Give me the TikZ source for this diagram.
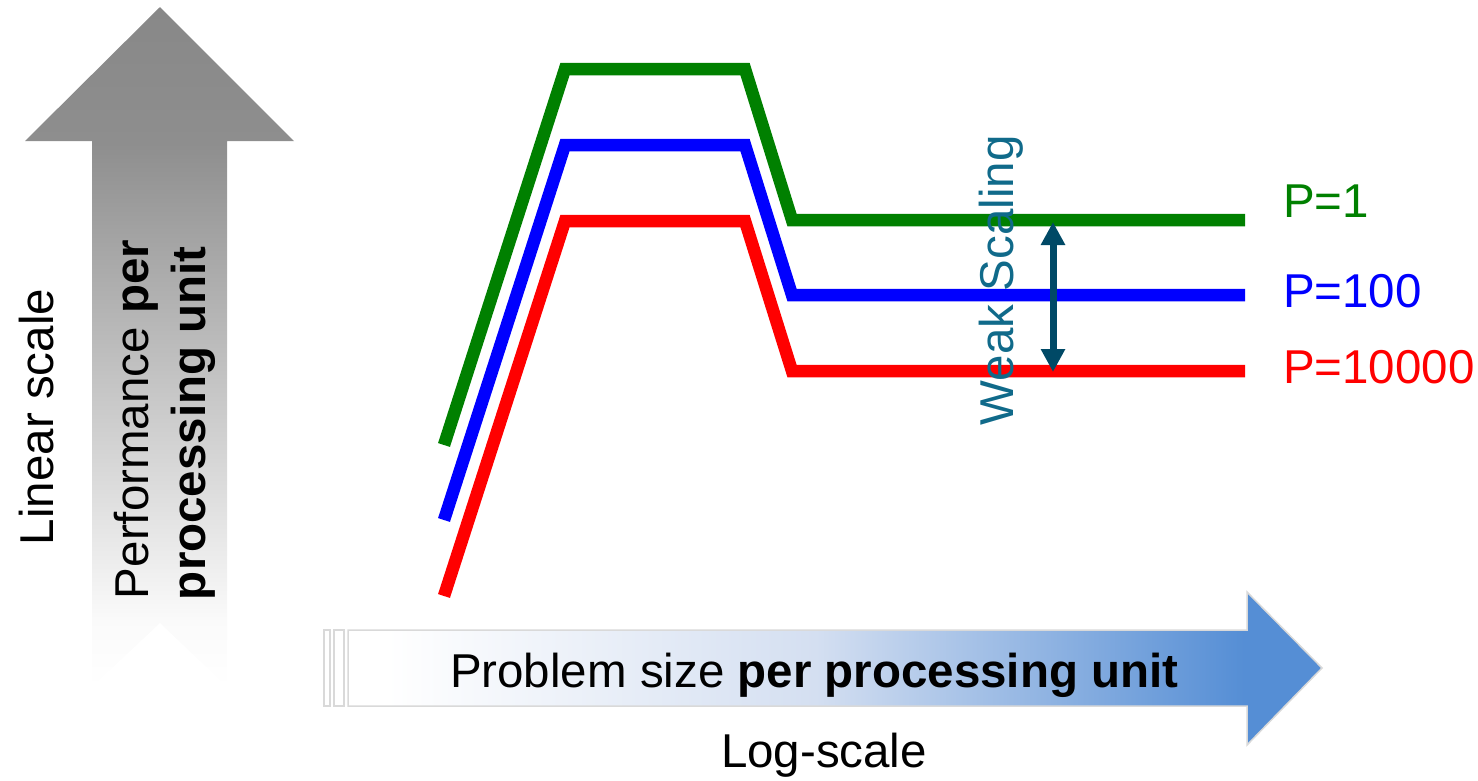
\documentclass[tikz,border=0pt]{standalone}
\usepackage{fontspec}
\setmainfont{Liberation Sans}
\usetikzlibrary{arrows.meta}
\definecolor{pgreen}{RGB}{0,128,0}
\definecolor{pblue}{RGB}{0,0,255}
\definecolor{pred}{RGB}{255,0,0}
\definecolor{wsteal}{RGB}{16,106,138}
\definecolor{wsarrow}{RGB}{0,73,102}
\definecolor{gtop}{RGB}{136,136,136}
\definecolor{gmid}{RGB}{142,142,142}
\definecolor{gfade}{RGB}{250,250,250}
\definecolor{bblue}{RGB}{85,142,213}
\definecolor{bmid}{RGB}{212,223,241}
\definecolor{aborder}{RGB}{217,217,217}
\pgfdeclareverticalshading{grayfade}{100bp}{color(0bp)=(white); color(25bp)=(white); color(30bp)=(gfade); color(65bp)=(gmid); color(75bp)=(gtop); color(100bp)=(gtop)}
\pgfdeclarehorizontalshading{bluefade}{100bp}{color(0bp)=(white); color(27bp)=(white); color(49bp)=(bmid); color(71bp)=(bblue); color(100bp)=(bblue)}
\tikzset{
  lbl/.style={font=\fontsize{47.5}{57}\selectfont, inner sep=0pt, outer sep=0pt},
  vlbl/.style={lbl, rotate=90, anchor=base west},
  hlbl/.style={lbl, anchor=base west},
  curve/.style={line width=12.5pt, line join=miter},
  stripe/.style={draw=aborder, fill=white, line width=1.5pt}
}
\begin{document}
\begin{tikzpicture}[x=1pt,y=-1pt]
\path[use as bounding box] (0,0) rectangle (1478,780);
% vertical gray arrow
\shade[shading=grayfade] (92,141) -- (25,141) -- (160,7) -- (294,141) -- (227,141) -- (227,687) -- (160,623) -- (92,687) -- cycle;
% horizontal blue arrow
\draw[stripe] (324,630) rectangle (330,706);
\draw[stripe] (334,630) rectangle (344,706);
\shade[shading=bluefade, draw=aborder, line width=1.5pt] (348,630) -- (1247,630) -- (1247,592) -- (1322,668) -- (1247,745) -- (1247,706) -- (348,706) -- cycle;
% texts
\node[vlbl] (lin) at (53,545) {Linear scale};
\node[vlbl] (perf1) at (148,599) {Performance \textbf{per}};
\node[vlbl] (perf2) at (205,600) {\bfseries processing unit};
\node[hlbl] (prob) at (450,687) {Problem size \textbf{per processing unit}};
\node[hlbl] (logs) at (721,767) {Log-scale};
% curves
\draw[curve, pgreen] (444,445) -- (565,69) -- (745,69) -- (792,220) -- (1245,220);
\draw[curve, pblue] (444,520) -- (565,145) -- (745,145) -- (792,295) -- (1245,295);
\draw[curve, pred] (444,596) -- (565,221) -- (745,221) -- (792,371) -- (1245,371);
\node[hlbl, text=pgreen] (p1) at (1283,217) {P=1};
\node[hlbl, text=pblue] (p100) at (1283,307) {P=100};
\node[hlbl, text=pred] (p10000) at (1283,383) {P=10000};
% weak scaling
\node[vlbl, text=wsteal] (ws) at (1013,425) {Weak Scaling};
\coordinate (wtop) at (1053,222);
\coordinate (wbot) at (1053,372);
\draw[wsarrow, line width=7pt, {Triangle[width=23pt,length=23pt]}-{Triangle[width=23pt,length=23pt]}] (wtop) -- (wbot);
\end{tikzpicture}
\end{document}
